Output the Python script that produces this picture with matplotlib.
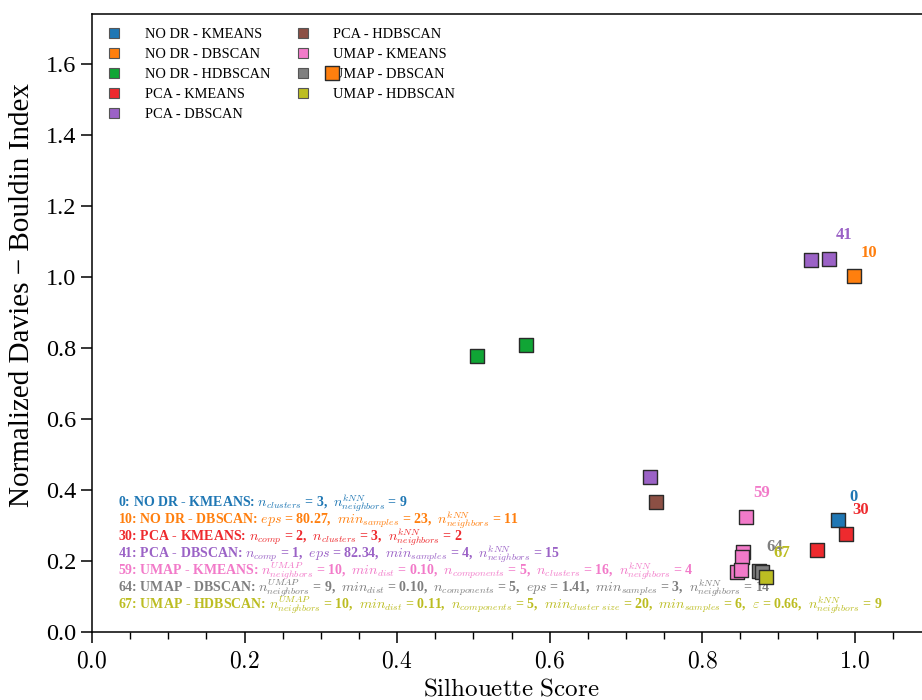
import numpy as np
import matplotlib
matplotlib.use("Agg")
import matplotlib.pyplot as plt
from matplotlib.ticker import MultipleLocator, FuncFormatter
from matplotlib.lines import Line2D

plt.rcParams['font.family'] = ['Liberation Serif', 'DejaVu Serif']
plt.rcParams['mathtext.fontset'] = 'cm'

# pipelines (dim. reduction - clustering) and their colours
methods = ['NO DR - KMEANS', 'NO DR - DBSCAN', 'NO DR - HDBSCAN', 'PCA - KMEANS',
           'PCA - DBSCAN', 'PCA - HDBSCAN', 'UMAP - KMEANS', 'UMAP - DBSCAN',
           'UMAP - HDBSCAN']
colors = ['#1f77b4', '#ff7f0e', '#10a535', '#ee2a2e', '#9b62c6',
          '#8c4f44', '#f27ac9', '#7f7f7f', '#bcbd22']

# silhouette score / normalized DB index per pipeline
sil = [[0.978],
       [0.314, 0.999],
       [0.505, 0.569],
       [0.988, 0.950],
       [0.731, 0.942, 0.966],
       [0.740],
       [0.858, 0.853, 0.852, 0.845, 0.851],
       [0.875, 0.878],
       [0.884]]
dbi = [[0.315],
       [1.574, 1.001],
       [0.777, 0.808],
       [0.276, 0.231],
       [0.437, 1.048, 1.050],
       [0.367],
       [0.324, 0.225, 0.211, 0.169, 0.175],
       [0.172, 0.169],
       [0.155]]

# best configuration ids -> (method index, point index)
best_ids = [0, 10, 30, 41, 59, 64, 67]
best_pts = [(0, 0), (1, 1), (3, 0), (4, 2), (6, 0), (7, 0), (8, 0)]
best_desc = [
    r'0: NO DR - KMEANS: $n_{clusters}$ = 3,  $n_{neighbors}^{kNN}$ = 9',
    r'10: NO DR - DBSCAN: $eps$ = 80.27,  $min_{samples}$ = 23,  $n_{neighbors}^{kNN}$ = 11',
    r'30: PCA - KMEANS: $n_{comp}$ = 2,  $n_{clusters}$ = 3,  $n_{neighbors}^{kNN}$ = 2',
    r'41: PCA - DBSCAN: $n_{comp}$ = 1,  $eps$ = 82.34,  $min_{samples}$ = 4,  $n_{neighbors}^{kNN}$ = 15',
    r'59: UMAP - KMEANS: $n_{neighbors}^{UMAP}$ = 10,  $min_{dist}$ = 0.10,  $n_{components}$ = 5,  '
    r'$n_{clusters}$ = 16,  $n_{neighbors}^{kNN}$ = 4',
    r'64: UMAP - DBSCAN: $n_{neighbors}^{UMAP}$ = 9,  $min_{dist}$ = 0.10,  $n_{components}$ = 5,  '
    r'$eps$ = 1.41,  $min_{samples}$ = 3,  $n_{neighbors}^{kNN}$ = 14',
    r'67: UMAP - HDBSCAN: $n_{neighbors}^{UMAP}$ = 10,  $min_{dist}$ = 0.11,  $n_{components}$ = 5,  '
    r'$min_{cluster\ size}$ = 20,  $min_{samples}$ = 6,  $\varepsilon$ = 0.66,  $n_{neighbors}^{kNN}$ = 9',
]

fig = plt.figure(figsize=(9.22, 7.0), dpi=100)
ax = fig.add_axes([0.0998, 0.0971, 0.91, 0.883])

for i, m in enumerate(methods):
    ax.scatter(sil[i], dbi[i], marker='s', s=95, color=colors[i],
               edgecolor='#2a2a2a', linewidth=1.0, zorder=6)

# ids of the best configurations next to their points
for bid, (mi, pj) in zip(best_ids, best_pts):
    ax.annotate(str(bid), (sil[mi][pj], dbi[mi][pj]), xytext=(11, 17),
                textcoords='offset points', ha='center', va='center',
                fontsize=12, fontweight='bold', color=colors[mi], zorder=7)

# parameter description of each best configuration
for k, (bid, (mi, pj)) in enumerate(zip(best_ids, best_pts)):
    ax.text(0.034, 0.363 - k * 0.0478, best_desc[k], fontsize=10,
            fontweight='bold', color=colors[mi], ha='left', va='center',
            zorder=4)

handles = [Line2D([], [], marker='s', ls='none', markersize=7.5,
                  markerfacecolor=c, markeredgecolor='#555555',
                  markeredgewidth=0.8) for c in colors]
ax.legend(handles, methods, loc='upper left', ncol=2, frameon=False,
          fontsize=10.4, bbox_to_anchor=(0.0, 0.995), handletextpad=1.3,
          handlelength=1.6, columnspacing=1.45, labelspacing=0.48,
          borderaxespad=0.35)

ax.set_xlim(0, 1.1)
ax.set_ylim(0, 1.74)
ax.xaxis.set_major_locator(MultipleLocator(0.2))
ax.xaxis.set_minor_locator(MultipleLocator(0.05))
ax.yaxis.set_major_locator(MultipleLocator(0.2))
ax.xaxis.set_major_formatter(FuncFormatter(lambda v, p: r'$%.1f$' % v))
ax.tick_params(axis='x', which='major', length=8, width=1.1, labelsize=17, pad=6)
ax.tick_params(axis='x', which='minor', length=5, width=1.0)
ax.tick_params(axis='y', which='major', length=8, width=1.1, labelsize=17.5)
for s in ax.spines.values():
    s.set_linewidth(1.1)

ax.set_xlabel(r'$\mathrm{Silhouette\ Score}$', fontsize=18, labelpad=4)
ax.set_ylabel('Normalized Davies \u2212 Bouldin Index', fontsize=21)
ax.yaxis.set_label_coords(-0.068, 0.545)

fig.savefig('out.png', dpi=100)
